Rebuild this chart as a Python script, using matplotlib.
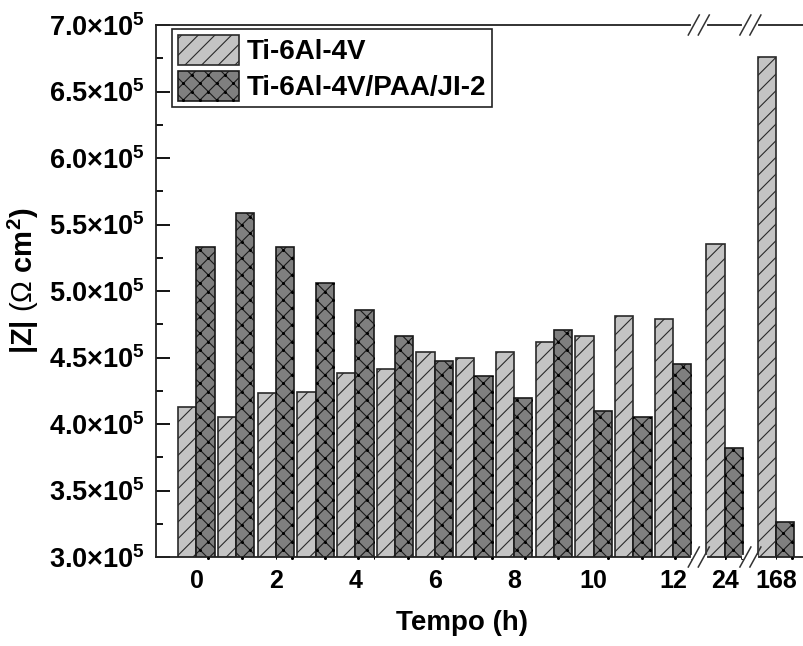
import matplotlib
matplotlib.use("Agg")
import numpy as np
import matplotlib.pyplot as plt
from matplotlib.lines import Line2D
from matplotlib.transforms import IdentityTransform
from matplotlib.ticker import FixedLocator, FuncFormatter, MultipleLocator

# Impedance modulus |Z| over immersion time
hours = [0, 1, 2, 3, 4, 5, 6, 7, 8, 9, 10, 11, 12, 24, 168]
tick_hours = [0, 2, 4, 6, 8, 10, 12, 24, 168]
z_ti = [4.13e5, 4.055e5, 4.23e5, 4.24e5, 4.38e5, 4.41e5, 4.54e5, 4.50e5,
        4.54e5, 4.62e5, 4.66e5, 4.81e5, 4.79e5, 5.35e5, 6.76e5]
z_coated = [5.33e5, 5.59e5, 5.33e5, 5.06e5, 4.86e5, 4.66e5, 4.47e5, 4.36e5,
            4.195e5, 4.71e5, 4.10e5, 4.05e5, 4.45e5, 3.82e5, 3.26e5]
series_labels = ["Ti-6Al-4V", "Ti-6Al-4V/PAA/JI-2"]

plt.rcParams["font.family"] = ["Liberation Sans", "DejaVu Sans"]
plt.rcParams["mathtext.fontset"] = "custom"
plt.rcParams["mathtext.rm"] = "Liberation Sans"
plt.rcParams["mathtext.bf"] = "Liberation Sans:bold"
plt.rcParams["mathtext.it"] = "Liberation Sans:italic"
plt.rcParams["hatch.linewidth"] = 0.8

DPI = 100
W, H = 804, 646


def axis_pos(h):
    # hours up to 12 are linear; later times sit after broken-axis gaps
    if h <= 12:
        return float(h)
    later = [v for v in hours if v > 12]
    return 12 + 1.3 * (later.index(h) + 1)


pos = [axis_pos(h) for h in hours]
bw = 0.46

fig = plt.figure(figsize=(W / DPI, H / DPI), dpi=DPI)
ax = fig.add_axes([156 / W, 89 / H, 1 - 156 / W, 532 / H])

ax.bar(pos, z_ti, width=-bw, align="edge", color="#c4c4c4",
       edgecolor="#2a2a2a", linewidth=1.2, hatch="//", label=series_labels[0])
coated_bars = ax.bar(pos, z_coated, width=bw, align="edge", color="#7f7f7f",
                     edgecolor="#1a1a1a", linewidth=1.2, hatch="xx",
                     label=series_labels[1])

ax.set_xlim(-1.02, 15.3)
ax.set_ylim(3.0e5, 7.0e5)

ax.spines["right"].set_visible(False)
for s in ("left", "top", "bottom"):
    ax.spines[s].set_linewidth(1.3)
    ax.spines[s].set_color("#222222")

ax.yaxis.set_major_locator(MultipleLocator(0.5e5))
ax.yaxis.set_minor_locator(MultipleLocator(0.25e5))
ax.yaxis.set_major_formatter(FuncFormatter(
    lambda v, _: r"$\mathbf{%.1f{\times}10^{5}}$" % (v / 1e5)))
ax.tick_params(axis="y", which="major", direction="in", length=10, width=1.3,
               labelsize=19.5, pad=8)
ax.tick_params(axis="y", which="minor", direction="in", length=5, width=1.3)

ax.xaxis.set_major_locator(FixedLocator([axis_pos(h) for h in tick_hours]))
ax.set_xticklabels([str(h) for h in tick_hours], fontweight="bold")
ax.tick_params(axis="x", which="major", length=0, labelsize=18, pad=9)

ax.set_xlabel("Tempo (h)", fontsize=20, fontweight="bold")
ax.xaxis.set_label_coords((462 - 156) / 648, -0.1)
ax.set_ylabel(r"$\mathbf{|Z|}$ $(\Omega$ $\mathbf{cm^{2})}$", fontsize=21)
ax.yaxis.set_label_coords(-0.178, 0.52)

leg = ax.legend(loc="upper left", bbox_to_anchor=(0.0247, 0.9925),
                borderaxespad=0, fancybox=False, edgecolor="#222222",
                framealpha=1, prop={"weight": "bold", "size": 20},
                borderpad=0.2, handlelength=2.2, handleheight=1.3,
                handletextpad=0.3, labelspacing=0.2)
leg.get_frame().set_linewidth(1.2)

# small dots on the crossing points of the cross-hatch (hatch tile = 1 inch)
fig.canvas.draw()
n_lines = 12
step = DPI / n_lines


def dot_crossings(patch, clip_box, zorder):
    bb = patch.get_window_extent()
    x0, x1 = max(bb.x0, clip_box.x0), min(bb.x1, clip_box.x1)
    y0, y1 = max(bb.y0, clip_box.y0), min(bb.y1, clip_box.y1)
    i0, i1 = int(np.floor(x0 / step)), int(np.ceil(x1 / step))
    j0, j1 = int(np.floor((H - y1) / step)), int(np.ceil((H - y0) / step))
    xs, ys = [], []
    for i in range(i0, i1 + 1):
        for j in range(j0, j1 + 1):
            if (i + j) % 2 == 0:
                xs.append(i * step)
                ys.append(H - j * step)
    dots = Line2D(xs, ys, linestyle="none", marker="o", markersize=2.2,
                  color="black", markeredgewidth=0,
                  transform=IdentityTransform(), zorder=zorder)
    fig.add_artist(dots)
    dots.set_clip_box(clip_box)
    dots.set_clip_path(patch)


for bar in coated_bars:
    dot_crossings(bar, ax.bbox, 1)
dot_crossings(leg.legend_handles[1], fig.bbox, 7)

# break marks on the top and bottom spines between 12 h / 24 h / 168 h
breaks = [(axis_pos(12) + axis_pos(24)) / 2, (axis_pos(24) + axis_pos(168)) / 2]
for xb in breaks:
    for ya in (0.0, 1.0):
        cx = ax.transData.transform((xb, 3.0e5))[0]
        cy = ax.transAxes.transform((0, ya))[1]
        fig.add_artist(Line2D([cx - 6, cx + 6], [cy, cy], color="white",
                              linewidth=3, transform=IdentityTransform(),
                              zorder=5))
        for off in (-5, 5):
            fig.add_artist(Line2D([cx + off - 5.5, cx + off + 5.5],
                                  [cy - 10, cy + 10], color="#333333",
                                  linewidth=1.1, transform=IdentityTransform(),
                                  zorder=6))

fig.savefig("out.png", dpi=DPI)
